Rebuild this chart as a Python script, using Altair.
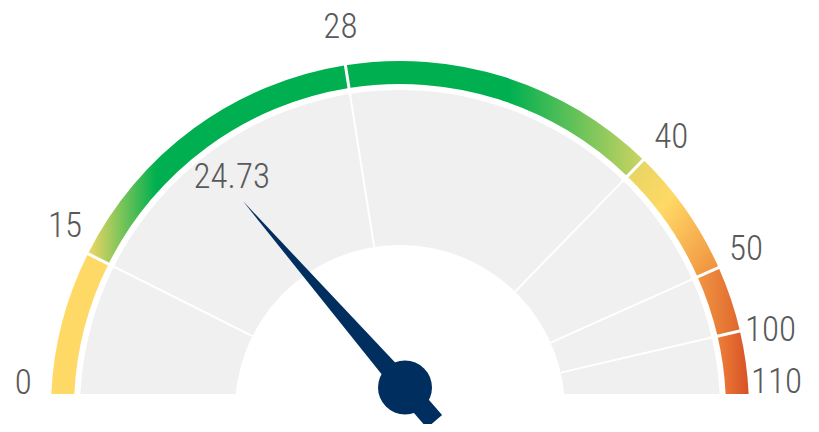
import math
import altair as alt
import pandas as pd

# ---------------- data ----------------
BOUNDS = [0, 15, 28, 40, 50, 100, 110]
TICK_LABELS = ["0", "15", "28", "40", "50", "100", "110"]
NEEDLE_VALUE = 24.73
NEEDLE_LABEL = "24.73"

# ---------------- layout / style ----------------
ANGLE_DEG = [-92.0, -63.4, -9.0, 44.2, 65.9, 76.9, 92.0]    # band angle of each bound
LABEL_DEG = [-87.5, -62.7, -9.1, 46.0, 66.6, 79.4, 87.4]    # label angle of each bound
ANGLE_RAD = [a * math.pi / 180 for a in ANGLE_DEG]
LABEL_RAD = [a * math.pi / 180 for a in LABEL_DEG]
CX, CY = 392, 402          # gauge centre (below the flat cut of the view)
PX, PY = 397, 379.5        # needle pivot
R_OUT, R_BAND_IN, R_GREY, R_HOLE = 349, 326, 320, 165
FONT = "Roboto Condensed, Noto Sans Condensed, Liberation Sans Narrow, Arial Narrow, Roboto, sans-serif"
FONT_W = 300
FONT_SIZE = 35
TXT = "#595959"
NAVY = "#002f5f"

SEG_GRADIENTS = [
    dict(stops=[("#ffd966", 0), ("#ffd966", 1)], x2=1, y2=0),
    dict(stops=[("#f3d764", 0), ("#00b050", 0.26), ("#00b050", 1)], x2=1, y2=0),
    dict(stops=[("#00b050", 0), ("#00b050", 0.55), ("#cdd462", 1)], x2=1, y2=0),
    dict(stops=[("#e2d462", 0), ("#ffd966", 0.4), ("#ee8c3c", 1)], x2=1, y2=1),
    dict(stops=[("#f09642", 0), ("#e0672e", 1)], x2=1, y2=0),
    dict(stops=[("#ee8038", 0), ("#d65127", 1)], x2=1, y2=0),
]

seg_df = pd.DataFrame({"seg": list(range(len(BOUNDS) - 1)),
                       "start": BOUNDS[:-1], "end": BOUNDS[1:]})
full_df = pd.DataFrame({"start": [BOUNDS[0]], "end": [BOUNDS[-1]]})
tick_df = pd.DataFrame({"value": BOUNDS, "label": TICK_LABELS})
inner_df = tick_df.iloc[1:-1].reset_index(drop=True)
needle_df = pd.DataFrame({"value": [NEEDLE_VALUE], "label": [NEEDLE_LABEL]})

theta_scale = alt.Scale(domain=BOUNDS, range=ANGLE_RAD)
label_scale = alt.Scale(domain=BOUNDS, range=LABEL_RAD)

layers = []

# grey background sector
layers.append(
    alt.Chart(full_df).mark_arc(radius=R_GREY, radius2=R_HOLE, fill="#f0f0f0", clip=True)
    .encode(x=alt.value(CX), y=alt.value(CY),
            theta=alt.Theta("start:Q", scale=theta_scale), theta2="end:Q")
)

# coloured band segments
for i, g in enumerate(SEG_GRADIENTS):
    grad = alt.LinearGradient(
        gradient="linear",
        stops=[alt.GradientStop(color=c, offset=o) for c, o in g["stops"]],
        x1=0, y1=0, x2=g["x2"], y2=g["y2"],
    )
    layers.append(
        alt.Chart(seg_df).transform_filter(alt.datum.seg == i)
        .mark_arc(radius=R_OUT, radius2=R_BAND_IN, fill=grad, clip=True)
        .encode(x=alt.value(CX), y=alt.value(CY),
                theta=alt.Theta("start:Q", scale=theta_scale), theta2="end:Q")
    )

# white separators (zero-width arcs)
layers.append(
    alt.Chart(inner_df).mark_arc(radius=R_OUT + 3, radius2=R_GREY - 2,
                                 fill="white", stroke="white", strokeWidth=3)
    .encode(x=alt.value(CX), y=alt.value(CY),
            theta=alt.Theta("value:Q", scale=theta_scale), theta2="value:Q")
)
layers.append(
    alt.Chart(inner_df).mark_arc(radius=R_GREY, radius2=R_HOLE,
                                 fill="white", stroke="white", strokeWidth=2)
    .encode(x=alt.value(CX), y=alt.value(CY),
            theta=alt.Theta("value:Q", scale=theta_scale), theta2="value:Q")
)

# tick labels
layers.append(
    alt.Chart(tick_df).mark_text(radius=377, font=FONT, fontSize=FONT_SIZE,
                                 fontWeight=FONT_W, color=TXT,
                                 align="center", baseline="alphabetic")
    .encode(x=alt.value(CX), y=alt.value(CY),
            theta=alt.Theta("value:Q", scale=label_scale), text="label:N")
)

# needle
NEEDLE_PATH = "M -0.10 0.45 L -0.10 0 L 0 -2.47 L 0.10 0 L 0.10 0.45 Z"
needle_base = alt.Chart(needle_df).transform_calculate(
    deg="-74.5 + datum.value / 110 * 149"
).transform_calculate(
    angle="datum.deg + 360", rad="datum.deg * PI / 180"
)
layers.append(
    needle_base.mark_point(shape=NEEDLE_PATH, filled=True, size=40000,
                           color=NAVY, opacity=1, strokeWidth=0)
    .encode(x=alt.value(PX), y=alt.value(PY), angle=alt.Angle("angle:Q", scale=None))
)
layers.append(
    needle_base.mark_point(shape="circle", filled=True, size=2916,
                           color=NAVY, opacity=1, strokeWidth=0)
    .encode(x=alt.value(PX), y=alt.value(PY))
)
layers.append(
    needle_base.mark_text(radius=264, font=FONT, fontSize=FONT_SIZE, fontWeight=FONT_W,
                          color=TXT, align="center", baseline="alphabetic")
    .encode(x=alt.value(PX), y=alt.value(PY),
            theta=alt.Theta("rad:Q", scale=None), text="label:N")
)

chart = (
    alt.layer(*layers)
    .resolve_scale(theta="independent")
    .properties(width=803, height=386,
                padding={"left": 0, "top": 0, "right": 0, "bottom": 30},
                autosize=alt.AutoSizeParams(type="none"))
    .configure_view(stroke="transparent")
)

chart.save("out.html", embed_options={"renderer": "svg", "actions": False})
